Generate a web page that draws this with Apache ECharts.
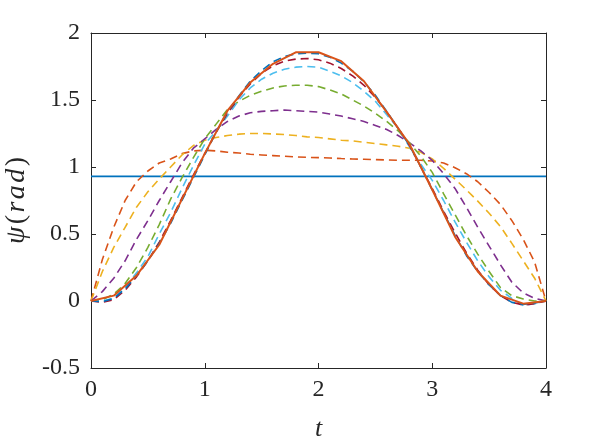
<!DOCTYPE html>
<html>
<head>
<meta charset="utf-8">
<script src="https://cdn.jsdelivr.net/npm/echarts@6/dist/echarts.min.js"></script>
<style>
html,body{margin:0;padding:0;background:#fff;}
#c{width:604px;height:446px;}
</style>
</head>
<body>
<div id="c"></div>
<script>
// ---- data ----
const xTicks = [0, 1, 2, 3, 4];
const yTicks = [-0.5, 0, 0.5, 1, 1.5, 2];
const tFine = [0,0.1,0.2,0.3,0.4,0.5,0.6,0.7,0.8,0.9,1.0,1.1,1.2,1.3,1.4,1.5,1.6,1.7,1.8,1.9,2.0,
               2.1,2.2,2.3,2.4,2.5,2.6,2.7,2.8,2.9,3.0,3.1,3.2,3.3,3.4,3.5,3.6,3.7,3.8,3.9,4.0];
const tCoarse = [0,0.2,0.4,0.6,0.8,1.0,1.2,1.4,1.6,1.8,2.0,2.2,2.4,2.6,2.8,3.0,3.2,3.4,3.6,3.8,4.0];
const tFlat = [0, 4];
const psiInit = [0.93, 0.93];
const psiIter1 = [0,0.31,0.55,0.75,0.89,0.97,1.03,1.06,1.10,1.12,1.125,1.12,1.11,1.105,1.095,1.09,1.085,1.08,1.075,1.072,1.07,
                  1.067,1.063,1.06,1.058,1.055,1.053,1.05,1.05,1.05,1.045,1.03,0.995,0.95,0.89,0.81,0.72,0.60,0.46,0.29,0];
const psiIter2 = [0,0.22,0.40,0.55,0.70,0.815,0.91,1.00,1.09,1.16,1.20,1.22,1.235,1.245,1.25,1.25,1.247,1.242,1.235,1.225,1.22,
                  1.21,1.20,1.195,1.185,1.175,1.165,1.155,1.14,1.11,1.06,0.99,0.91,0.83,0.745,0.655,0.555,0.43,0.30,0.17,0];
const psiIter3 = [0,0.07,0.17,0.30,0.46,0.60,0.75,0.89,1.03,1.14,1.21,1.28,1.34,1.38,1.405,1.415,1.42,1.425,1.42,1.415,1.41,
                  1.395,1.38,1.36,1.34,1.31,1.28,1.235,1.18,1.12,1.05,0.95,0.84,0.70,0.55,0.41,0.27,0.14,0.06,0.02,0];
const psiIter4 = [0,0.01,0.05,0.13,0.25,0.40,0.57,0.76,0.92,1.07,1.21,1.32,1.43,1.49,1.535,1.565,1.59,1.605,1.61,1.61,1.60,
                  1.575,1.545,1.50,1.455,1.40,1.34,1.27,1.18,1.08,0.96,0.80,0.645,0.49,0.35,0.22,0.10,0.04,0.015,0.0,0];
const psiIter5 = [0,0.0,0.02,0.10,0.21,0.33,0.50,0.66,0.84,1.01,1.17,1.27,1.38,1.50,1.59,1.655,1.70,1.73,1.745,1.75,1.745,
                  1.715,1.68,1.63,1.565,1.49,1.39,1.29,1.15,1.02,0.90,0.75,0.59,0.44,0.30,0.18,0.08,0.02,-0.035,-0.02,0];
const psiIter6 = [0,-0.01,0.01,0.08,0.18,0.30,0.44,0.60,0.77,0.94,1.10,1.26,1.40,1.52,1.62,1.70,1.755,1.79,1.805,1.81,1.80,
                  1.775,1.735,1.68,1.61,1.52,1.41,1.29,1.16,1.00,0.84,0.67,0.51,0.36,0.23,0.12,0.04,-0.01,-0.03,-0.02,0];
const psiIter7 = [0,-0.005,0.02,0.09,0.19,0.30,0.43,0.58,0.75,0.92,1.09,1.26,1.41,1.53,1.64,1.72,1.785,1.825,1.845,1.85,1.845,
                  1.82,1.775,1.715,1.635,1.535,1.415,1.29,1.16,1.00,0.83,0.66,0.49,0.34,0.22,0.12,0.04,-0.01,-0.025,-0.015,0];
const psiFinal = [0,0.04,0.19,0.42,0.76,1.10,1.42,1.63,1.77,1.856,1.856,1.79,1.64,1.41,1.17,0.83,0.48,0.22,0.04,-0.02,0];

const colors = ['#0072BD','#D95319','#EDB120','#7E2F8E','#77AC30','#4DBEEE','#A2142F'];

function zip(xs, ys){ return xs.map((x,i)=>[x, ys[i]]); }

const iters = [psiIter1, psiIter2, psiIter3, psiIter4, psiIter5, psiIter6, psiIter7];
const series = [];
series.push({type:'line', data: zip(tFlat, psiInit), showSymbol:false, symbol:'none',
  lineStyle:{color:colors[0], width:1.6}, z:2, animation:false});
iters.forEach((d,i)=>{
  series.push({type:'line', data: zip(tFine, d), symbol:'none',
    lineStyle:{color:colors[(i+1)%7], width:1.6, type:[8,5]}, z:3+i, animation:false});
});
series.push({type:'line', data: zip(tCoarse, psiFinal), symbol:'none',
  lineStyle:{color:colors[1], width:2}, z:20, animation:false});

const font = '"Liberation Serif","Times New Roman",serif';
const chart = echarts.init(document.getElementById('c'), null, {renderer:'canvas'});
chart.setOption({
  backgroundColor:'#fff',
  animation:false,
  grid:{left:91, right:58, top:33, bottom:78, containLabel:false, outerBoundsMode:'none'},
  xAxis:[{
    type:'value', min:xTicks[0], max:xTicks[xTicks.length-1], interval:1,
    axisLine:{show:true, onZero:false, lineStyle:{color:'#262626', width:1}},
    axisTick:{show:true, inside:true, length:5, lineStyle:{color:'#262626'}},
    axisLabel:{color:'#262626', fontFamily:font, fontSize:24, margin:10},
    splitLine:{show:false},
    name:'t', nameLocation:'middle', nameGap:48,
    nameTextStyle:{fontFamily:font, fontStyle:'italic', fontSize:26, color:'#262626'}
  },{
    type:'value', position:'top', min:0, max:4, interval:1,
    axisLine:{show:true, onZero:false, lineStyle:{color:'#262626', width:1}},
    axisTick:{show:true, inside:true, length:5, lineStyle:{color:'#262626'}},
    axisLabel:{show:false}, splitLine:{show:false}
  }],
  yAxis:[{
    type:'value', min:yTicks[0], max:yTicks[yTicks.length-1], interval:0.5,
    axisLine:{show:true, onZero:false, lineStyle:{color:'#262626', width:1}},
    axisTick:{show:true, inside:true, length:5, lineStyle:{color:'#262626'}},
    axisLabel:{color:'#262626', fontFamily:font, fontSize:24, margin:11},
    splitLine:{show:false},
    name:'{i|ψ}{p|(}{i|r}{i|a}{i|d}{p|)}', nameLocation:'middle', nameGap:58, nameRotate:90,
    nameTextStyle:{color:'#262626',
      rich:{
        i:{fontFamily:font, fontStyle:'italic', fontSize:28, color:'#262626', padding:[0,1.2]},
        p:{fontFamily:font, fontSize:28, color:'#262626', padding:[0,1.2]}
      }}
  },{
    type:'value', position:'right', min:-0.5, max:2, interval:0.5,
    axisLine:{show:true, onZero:false, lineStyle:{color:'#262626', width:1}},
    axisTick:{show:true, inside:true, length:5, lineStyle:{color:'#262626'}},
    axisLabel:{show:false}, splitLine:{show:false}
  }],
  series: series
});
</script>
</body>
</html>
